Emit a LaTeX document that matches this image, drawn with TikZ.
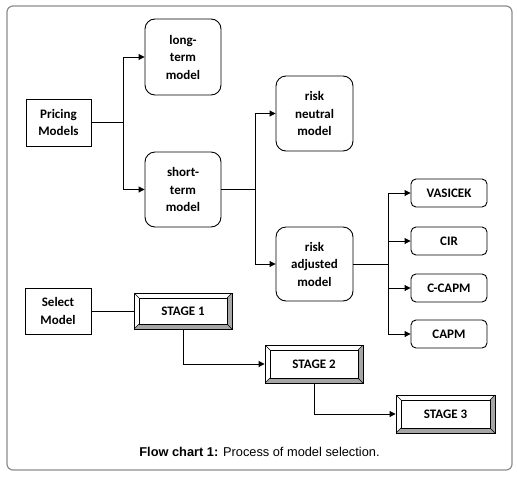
\documentclass[tikz,border=0pt]{standalone}
\usepackage{fontspec}
\setmainfont{Carlito}
\newfontfamily\arialf{Liberation Sans}
\usetikzlibrary{arrows.meta,calc}
\definecolor{bevel}{RGB}{166,166,166}
\definecolor{framegray}{RGB}{140,140,140}
\tikzset{
  boxfont/.style={font=\bfseries\fontsize{13}{17.5}\selectfont, align=center, inner sep=0pt},
  sqbox/.style={boxfont, draw, line width=0.9pt},
  rbox/.style={boxfont, draw, line width=0.9pt, rounded corners=10pt},
  sbox/.style={boxfont, draw, line width=0.9pt, rounded corners=5pt, minimum width=76pt, minimum height=28pt},
  stagebox/.style={boxfont, draw, line width=0.9pt, minimum width=98pt, minimum height=37pt,
    path picture={
      \fill[bevel] (path picture bounding box.south west)
        -- (path picture bounding box.south east)
        -- (path picture bounding box.north east)
        -- ($(path picture bounding box.north east)+(-5pt,-5pt)$)
        -- ($(path picture bounding box.south east)+(-5pt,5pt)$)
        -- ($(path picture bounding box.south west)+(5pt,5pt)$) -- cycle;
      \draw[line width=0.8pt] ($(path picture bounding box.south west)+(5pt,5pt)$)
        rectangle ($(path picture bounding box.north east)+(-5pt,-5pt)$);
      \draw[line width=0.5pt] (path picture bounding box.south west) -- ++(5pt,5pt);
      \draw[line width=0.5pt] (path picture bounding box.south east) -- ++(-5pt,5pt);
      \draw[line width=0.5pt] (path picture bounding box.north east) -- ++(-5pt,-5pt);
      \draw[line width=0.5pt] (path picture bounding box.north west) -- ++(5pt,-5pt);
    }},
  conn/.style={line width=0.9pt},
  arr/.style={conn, -{Triangle[length=6pt,width=6pt]}}
}
\begin{document}
\begin{tikzpicture}[x=1pt,y=-1pt]
\useasboundingbox (0,0) rectangle (518,482);
\draw[framegray, line width=1.2pt, rounded corners=6pt] (7,6) rectangle (512,470);

\node[sqbox, minimum width=65pt, minimum height=47pt] (pm) at (58.5,122.5) {Pricing\\Models};
\node[rbox, minimum width=76pt, minimum height=76pt] (lt) at (183,57) {long-\\term\\model};
\node[rbox, minimum width=76pt, minimum height=75pt] (st) at (183,189.5) {short-\\term\\model};
\node[rbox, minimum width=77pt, minimum height=75pt] (rn) at (314.5,113.5) {risk\\neutral\\model};
\node[rbox, minimum width=77pt, minimum height=74pt] (ra) at (314.5,264) {risk\\adjusted\\model};
\node[sbox] (va) at (449,193) {VASICEK};
\node[sbox] (ci) at (449,241) {CIR};
\node[sbox] (cc) at (449,288) {C-CAPM};
\node[sbox] (ca) at (449,334) {CAPM};
\node[sqbox, minimum width=66pt, minimum height=46pt] (sm) at (58,311) {Select\\Model};
\node[stagebox, minimum height=36pt] (s1) at (183,311) {STAGE 1};
\node[stagebox, minimum height=38pt] (s2) at (314,364) {STAGE 2};
\node[stagebox, minimum width=99pt, minimum height=38pt] (s3) at (445.5,414) {STAGE 3};

\coordinate (j1) at (123,122.5);
\coordinate (j2) at (255,189.5);
\coordinate (j3) at (388,264);

\draw[conn] (pm.east) -- (j1);
\draw[arr] (j1) |- (lt.west);
\draw[arr] (j1) |- (st.west);
\draw[conn] (st.east) -- (j2);
\draw[arr] (j2) |- (rn.west);
\draw[arr] (j2) |- (ra.west);
\draw[conn] (ra.east) -- (j3);
\draw[arr] (j3) |- (va.west);
\draw[arr] (j3) |- (ci.west);
\draw[arr] (j3) |- (cc.west);
\draw[arr] (j3) |- (ca.west);
\draw[conn] (sm.east) -- (s1.west);
\draw[arr] (s1.south) |- (s2.west);
\draw[arr] (s2.south) |- (s3.west);

\node[anchor=base, inner sep=0pt, font=\arialf\fontsize{12.8}{15}\selectfont] (cap) at (259.5,456.5) {\textbf{Flow chart 1:} Process of model selection.};
\end{tikzpicture}
\end{document}
